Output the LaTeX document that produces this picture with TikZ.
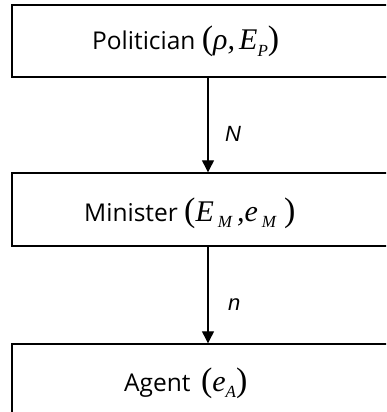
\documentclass[tikz,border=0pt]{standalone}
\usepackage{fontspec}
\usetikzlibrary{arrows.meta}
\setmainfont{Open Sans}
\newfontfamily\tms{Liberation Serif}
\newfontfamily\arl{Liberation Sans}
\newcommand\bigparen[1]{{\tms\fontsize{34}{34}\selectfont #1}}
\newcommand\mvar[1]{{\tms\itshape\fontsize{30}{30}\selectfont #1}}
\newcommand\msub[1]{\raisebox{-6pt}{\tms\itshape\fontsize{17}{17}\selectfont #1}}
\begin{document}
\begin{tikzpicture}[x=1pt,y=-1pt,
  box/.style={draw, line width=1.4pt, minimum width=392pt, inner sep=0pt},
  lbl/.style={anchor=base west, inner sep=0pt, font=\fontsize{24.5}{24.5}\selectfont},
  elbl/.style={anchor=base west, inner sep=0pt, font=\arl\itshape\fontsize{22}{22}\selectfont},
  arr/.style={line width=1.2pt, -{Triangle[length=12pt,width=12pt]}}]
\useasboundingbox (0,0) rectangle (386,412);
\clip (0,0) rectangle (386,412);
\fill[white] (0,0) rectangle (386,412);
\node[box, minimum height=72pt] (pol) at (208,41) {};
\node[box, minimum height=73pt] (min) at (208,209.5) {};
\node[box, minimum height=72pt] (agt) at (208,380) {};
\node[lbl] (polt) at (92,50) {Politician \bigparen{(}\mvar{ρ}\mvar{,}\,\mvar{E}\msub{P}\bigparen{)}};
\node[lbl] (mint) at (84,221) {Minister \bigparen{(}\mvar{E}\,\msub{M}\hspace{5pt}\mvar{,}\mvar{e}\,\msub{M}\hspace{8pt}\bigparen{)}};
\node[lbl] (agtt) at (124,391) {Agent \,\bigparen{(}\mvar{e}\msub{A}\bigparen{)}};
\draw[arr] (pol) -- (min);
\draw[arr] (min) -- (agt);
\node[elbl] (N) at (225,141) {N};
\node[elbl] (n) at (228,310) {n};
\end{tikzpicture}
\end{document}
